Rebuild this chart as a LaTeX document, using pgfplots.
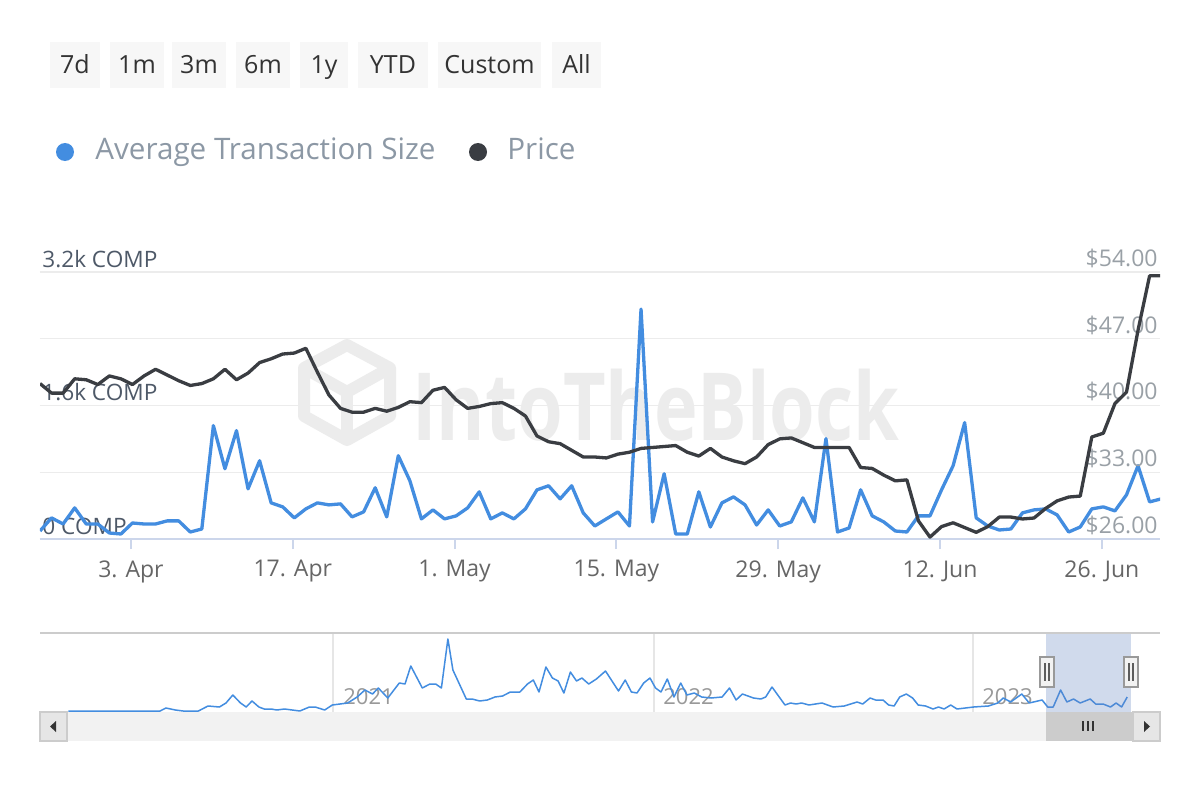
\documentclass[border=0pt]{standalone}
\usepackage{fontspec}
\setmainfont{Open Sans}
\usepackage{graphicx}
\usepackage{pgfplots}
\usepackage{pgfplotstable}
\pgfplotsset{compat=1.18}

\definecolor{blueline}{RGB}{67,141,224}
\definecolor{priceline}{RGB}{58,61,66}
\definecolor{axisc}{RGB}{204,214,235}
\definecolor{gridc}{RGB}{236,236,236}
\definecolor{leftlab}{RGB}{78,89,104}
\definecolor{rightlab}{RGB}{153,160,166}
\definecolor{xlab}{RGB}{102,102,102}
\definecolor{legtext}{RGB}{140,152,165}
\definecolor{btnfill}{RGB}{247,247,247}
\definecolor{btntext}{RGB}{51,51,51}
\definecolor{wm}{RGB}{236,236,236}
\definecolor{navline}{RGB}{204,204,204}
\definecolor{navgrid}{RGB}{230,230,230}
\definecolor{navlab}{RGB}{153,153,153}
\definecolor{mask}{RGB}{102,133,194}
\definecolor{track}{RGB}{242,242,242}
\definecolor{sbbtn}{RGB}{230,230,230}
\definecolor{thumb}{RGB}{204,204,204}

% day index (0 = first point, 7.87 = 3 Apr), avg transaction size (COMP), price (USD)
\pgfplotstableread{
i comp price
0 96 42.3
1 253 41.3
2 180 41.3
3 373 42.8
4 180 42.7
5 180 42.2
6 72 43.1
7 60 42.8
8 192 42.2
9 180 43.1
10 180 43.8
11 217 43.2
12 217 42.6
13 84 42.1
14 120 42.3
15 1359 42.8
16 842 43.8
17 1299 42.7
18 601 43.4
19 938 44.5
20 433 44.9
21 385 45.4
22 253 45.5
23 361 46.0
24 433 43.5
25 409 41.1
26 421 39.7
27 265 39.3
28 325 39.3
29 614 39.7
30 265 39.4
31 998 39.8
32 698 40.4
33 241 40.3
34 349 41.6
35 241 41.9
36 277 40.6
37 373 39.7
38 565 39.9
39 241 40.2
40 313 40.3
41 241 39.7
42 361 38.9
43 589 36.8
44 638 36.2
45 481 36.0
46 638 35.3
47 313 34.6
48 156 34.6
49 241 34.5
50 325 34.9
51 156 35.1
52 2755 35.5
53 205 35.6
54 782 35.7
55 60 35.8
56 60 35.1
57 565 34.7
58 144 35.5
59 433 34.6
60 505 34.2
61 409 33.9
62 168 34.6
63 349 35.9
64 156 36.5
65 205 36.6
66 493 36.1
67 205 35.6
68 1203 35.6
69 84 35.6
70 132 35.6
71 589 33.5
72 277 33.4
73 205 32.7
74 96 32.1
75 84 32.2
76 277 27.9
77 277 26.2
78 589 27.3
79 878 27.7
80 1395 27.2
81 253 26.7
82 156 27.3
83 108 28.3
84 120 28.3
85 313 28.1
86 349 28.2
87 361 29.2
88 289 30.0
89 84 30.4
90 144 30.5
91 361 36.7
92 385 37.1
93 337 40.2
94 529 41.4
95 878 47.9
96 445 53.6
97 481 53.6
}\maindata

% navigator overview (x position, relative height)
\pgfplotstableread{
x h
68.3 1
160.1 1
165.9 4
175.4 2
183.1 1
198.4 1
208 6
219.4 5
226 9
232.8 17
240.5 9
246.2 5
252 11
258.9 5
264.2 3
271.1 3
276.8 2
284.5 3
292.2 2
299.8 1
309.4 5
315.1 5
324.7 2
332.3 7
347.6 9
357.2 15
364.9 22
372.5 18
378.3 24
387.8 14
399.3 29
405 28
410.8 46
422.3 24
429.9 28
435.7 28
441.4 24
447.9 73
452.9 42
466.3 13
472 13
479.7 11
487.3 12
495 15
502.6 16
510.3 20
519.9 20
527.5 28
533.3 32
539 20
545.9 45
552.4 34
558.1 31
563.9 19
570.4 40
576.5 31
581.9 34
588.7 28
596.4 33
605.5 41
618.5 21
625.2 32
631.4 20
637 19
643.7 29
650 34
655.5 24
661 20
667.3 33
674 15
680.7 29
686.9 17
694.3 19
701.7 15
711 14
722.1 15
729.5 24
736.1 12
742.4 18
753.5 14
760.9 13
765.7 15
772 25
785 7
790.5 9
796.1 8
801.6 9
809 7
822 9
833.1 5
844.2 6
857.1 10
862.7 8
870.1 14
875.6 12
883 12
888.6 7
894.1 6
899.7 15
906.3 18
912.6 14
918.2 7
925.6 6
933 3
938.5 5
944.1 3
950.7 7
957 3
973.7 5
988.5 6
997.7 9
1003.3 14
1010.7 10
1016.2 14
1021.8 18
1029.2 9
1042.1 12
1047.7 5
1053.2 5
1060.6 22
1066.9 10
1073.5 13
1080.2 9
1090.2 13
1095.7 8
1103.1 8
1110.5 5
1116.1 9
1121.6 5
1127.2 15
}\navdata

\begin{document}
\begin{tikzpicture}
\path[fill=white, use as bounding box] (0,0) rectangle (600pt,400pt);

\begin{scope}[x=0.5pt,y=-0.5pt,shift={(0pt,400pt)}]
  % range buttons
  \foreach \a/\b/\t in {50/100/7d, 110/164/1m, 172/226/3m, 236/290/6m, 300/348/1y, 358/428/YTD, 438/541/Custom, 552/601/All}{
    \fill[btnfill] (\a,42) rectangle (\b,88);
    \node[anchor=base, inner sep=0pt, text=btntext, font=\fontsize{12.5}{14}\selectfont] at ({(\a+\b)/2},74) {\t};
  }
  % legend
  \fill[blueline] (65,152) circle (9);
  \node[anchor=base west, inner sep=0pt, text=legtext, font=\fontsize{14.8}{16}\selectfont] at (95,160) {Average Transaction Size};
  \fill[priceline] (478,152) circle (9);
  \node[anchor=base west, inner sep=0pt, text=legtext, font=\fontsize{14.8}{16}\selectfont] at (507,160) {Price};
  % watermark
  \begin{scope}[draw=wm, line width=6pt, line join=round]
    \draw (347,345) -- (390,368) -- (390,416) -- (347,440) -- (304,416) -- (304,368) -- cycle;
    \draw (304,368) -- (347,392) -- (390,368);
    \draw (347,392) -- (347,440);
  \end{scope}
  \node[anchor=base west, inner sep=0pt, text=wm, font=\bfseries\fontsize{47}{50}\selectfont] at (412,440) {\scalebox{0.785}[1]{IntoTheBlock}};
  % navigator background parts
  \foreach \g in {333,654,973}{
    \draw[navgrid, line width=1pt] (\g,632) -- (\g,712);
  }
  \node[anchor=base west, inner sep=0pt, text=navlab, font=\fontsize{11}{12}\selectfont] at (343,704) {2021};
  \node[anchor=base west, inner sep=0pt, text=navlab, font=\fontsize{11}{12}\selectfont] at (663,704) {2022};
  \node[anchor=base west, inner sep=0pt, text=navlab, font=\fontsize{11}{12}\selectfont] at (982,704) {2023};
  % scrollbar
  \fill[track] (40,712) rectangle (1160,741);
  \fill[thumb] (1046,712) rectangle (1132,741);
  \foreach \s in {1083,1088,1093}{\draw[btntext, line width=0.7pt] (\s,721) -- (\s,731);}
  \filldraw[fill=sbbtn, draw=navline, line width=0.7pt] (40,712) rectangle (67,741);
  \filldraw[fill=sbbtn, draw=navline, line width=0.7pt] (1133,712) rectangle (1160,741);
  \fill[btntext] (50,726.5) -- (56,721) -- (56,732) -- cycle;
  \fill[btntext] (1150,726.5) -- (1144,721) -- (1144,732) -- cycle;
\end{scope}

% main chart: average transaction size (left axis)
\begin{axis}[
  at={(20pt,130.5pt)}, anchor=south west, scale only axis,
  width=560pt, height=133.5pt,
  xmin=0, xmax=96.9, ymin=0, ymax=3200,
  axis x line*=bottom, axis y line*=left,
  x axis line style={draw=axisc, line width=1pt, -},
  y axis line style={draw=none},
  xtick={7.87,21.87,35.87,49.87,63.87,77.87,91.87},
  xticklabels={3. Apr,17. Apr,1. May,15. May,29. May,12. Jun,26. Jun},
  xtick align=outside, major tick length=5pt,
  xtick style={draw=axisc, line width=1pt},
  ytick={0,800,1600,2400,3200},
  yticklabels={0 COMP,,1.6k COMP,,3.2k COMP},
  ytick style={draw=none},
  ymajorgrids, major grid style={draw=gridc, line width=0.6pt},
  yticklabel style={anchor=south west, inner sep=1pt, yshift=1pt, text=leftlab, font=\fontsize{11.3}{12}\selectfont},
  xticklabel style={text=xlab, font=\fontsize{11.5}{12}\selectfont, inner sep=1pt, yshift=-4.5pt},
  /pgf/number format/assume math mode=true,
]
\addplot[blueline, line width=1.65pt, line join=round, mark=none] table[x=i, y=comp] {\maindata};
\end{axis}

% main chart: price (right axis)
\begin{axis}[
  at={(20pt,130.5pt)}, anchor=south west, scale only axis,
  width=560pt, height=133.5pt,
  xmin=0, xmax=96.9, ymin=26, ymax=54,
  axis x line=none, axis y line*=right,
  y axis line style={draw=none},
  ytick={26,33,40,47,54},
  yticklabels={\$26.00,\$33.00,\$40.00,\$47.00,\$54.00},
  ytick style={draw=none},
  yticklabel style={anchor=south east, inner sep=1pt, yshift=1pt, text=rightlab, font=\fontsize{11.5}{12}\selectfont},
  /pgf/number format/assume math mode=true,
]
\addplot[priceline, line width=1.65pt, line join=round, mark=none] table[x=i, y=price] {\maindata};
\end{axis}

% navigator
\begin{axis}[
  at={(20pt,44pt)}, anchor=south west, scale only axis,
  width=560pt, height=40pt,
  xmin=40, xmax=1160, ymin=0, ymax=80,
  hide axis,
]
\addplot[blueline, line width=0.75pt, line join=round, mark=none] table[x=x, y=h] {\navdata};
\end{axis}

\begin{scope}[x=0.5pt,y=-0.5pt,shift={(0pt,400pt)}]
  \fill[mask, opacity=0.3] (1046,632) rectangle (1131,712);
  \draw[navline, line width=1pt] (40,632.5) -- (1160,632.5);
  \foreach \h in {1047,1131}{
    \filldraw[fill=track, draw=navlab, line width=0.8pt] (\h-7,657) rectangle (\h+7,687);
    \draw[btntext!80, line width=0.6pt] (\h-2,663) -- (\h-2,681);
    \draw[btntext!80, line width=0.6pt] (\h+2,663) -- (\h+2,681);
  }
\end{scope}
\end{tikzpicture}
\end{document}
